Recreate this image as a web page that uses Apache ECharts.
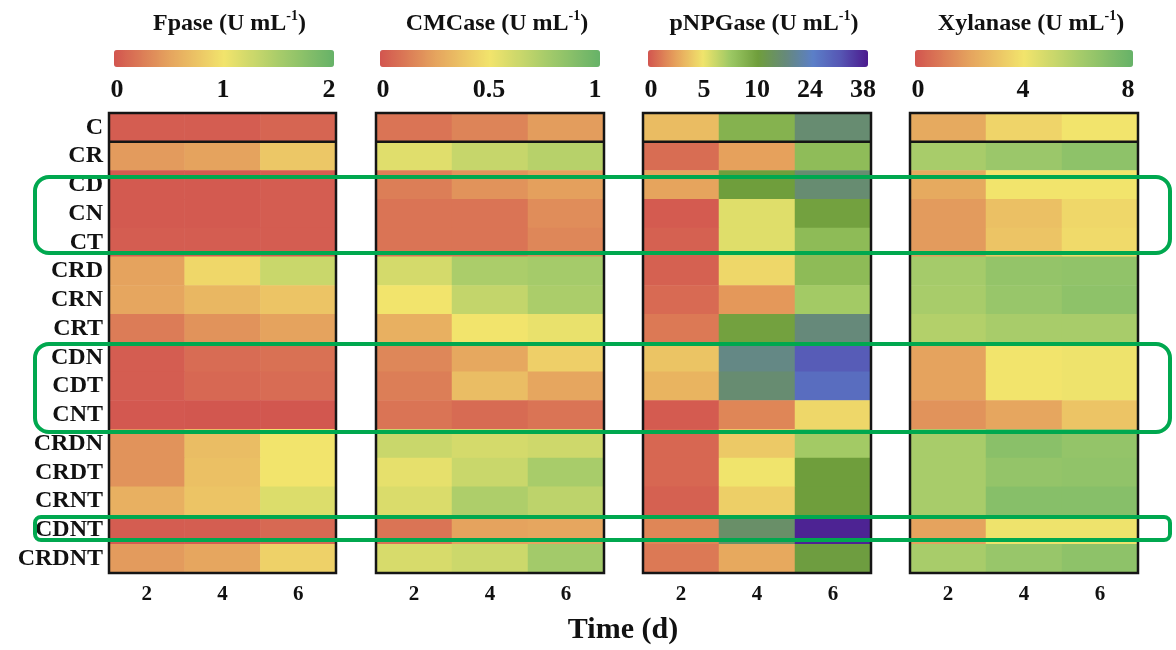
<!DOCTYPE html>
<html><head><meta charset="utf-8">
<script src="https://cdn.jsdelivr.net/npm/echarts@6/dist/echarts.min.js"></script>
<style>html,body{margin:0;padding:0;background:#fff}#c{width:1176px;height:650px}</style>
</head><body><div id="c"></div>
<script>
// ---- data ----
const rows = ['C','CR','CD','CN','CT','CRD','CRN','CRT','CDN','CDT','CNT','CRDN','CRDT','CRNT','CDNT','CRDNT'];
const days = ['2','4','6'];
// values per row: [day2, day4, day6]
const fpase = [
  [0.05,0.05,0.1],[0.45,0.5,0.78],[0.03,0.03,0.05],[0.03,0.03,0.05],[0.05,0.05,0.05],
  [0.5,0.9,1.28],[0.52,0.65,0.75],[0.25,0.4,0.5],[0.05,0.15,0.18],[0.05,0.12,0.15],
  [0.02,0.01,0.01],[0.4,0.7,1.0],[0.4,0.72,1.0],[0.6,0.75,1.15],[0.05,0.06,0.13],[0.45,0.52,0.85]
];
const cmcase = [
  [0.1,0.15,0.23],[0.56,0.65,0.7],[0.13,0.2,0.24],[0.1,0.1,0.18],[0.1,0.1,0.16],
  [0.6,0.74,0.76],[0.5,0.66,0.74],[0.3,0.5,0.53],[0.16,0.27,0.42],[0.13,0.35,0.26],
  [0.1,0.07,0.1],[0.64,0.6,0.62],[0.54,0.64,0.75],[0.58,0.73,0.68],[0.1,0.25,0.26],[0.59,0.63,0.77]
];
const pnpgase = [
  [3.5,8.8,16],[0.8,2.5,8.2],[2.6,10,16],[0.2,5.5,9.8],[0.4,5.5,8.3],
  [0.4,4.5,8.3],[0.7,2.2,7.3],[1.2,9.8,17],[3.8,18,30],[3.2,16,27],
  [0.2,1.6,4.5],[0.6,4,7.3],[0.6,5,10],[0.4,4.2,10],[1.6,15,37],[1.2,2.8,10.5]
];
const xylanase = [
  [2.2,3.5,4.0],[6.0,6.4,6.8],[2.2,4.0,4.0],[1.8,2.9,3.6],[1.8,3.0,3.7],
  [6.1,6.6,6.7],[6.0,6.5,6.8],[5.7,6.0,6.0],[2.0,4.0,4.1],[2.0,4.0,4.1],
  [1.6,2.1,3.0],[6.0,6.9,6.6],[6.0,6.6,6.7],[6.0,7.0,7.0],[2.0,4.1,4.1],[6.0,6.5,6.8]
];
const fpaseTicks = [0, 2, 1];      // min, max, interval
const cmcaseTicks = [0, 1, 0.5];
const xylTicks = [0, 8, 4];
const pnpgTicks = [0, 5, 10, 24, 38];

// ---- layout ----
const FONT = "'Liberation Serif', 'DejaVu Serif', serif";
const gridTop = 113, gridH = 460;
const panels = [
  {left:109, width:227, name:'Fpase'},
  {left:376, width:228, name:'CMCase'},
  {left:643, width:228, name:'pNPGase'},
  {left:910, width:228, name:'Xylanase'}
];
const bars = [{l:114,w:220},{l:380,w:220},{l:648,w:220},{l:915,w:218}];
const pal = ['#d2554f','#e5a35e','#f2e46c','#a8cc6a','#66b268'];
const pnpgPal = ['#d2554f','#e6a15c','#f0e46c','#9cc864','#6f9e3c','#66897a','#5b7fc8','#5656b4','#4b1a8e'];

function toIdx(v){ // piecewise-linear position on the pNPGase scale
  for (let i=0;i<pnpgTicks.length-1;i++){
    const a=pnpgTicks[i], b=pnpgTicks[i+1];
    if (v<=b) return i + (v-a)/(b-a);
  }
  return pnpgTicks.length-1;
}
function build(arr, f){
  const d=[];
  arr.forEach((r,yi)=>r.forEach((v,xi)=>d.push([xi,yi,f?f(v):v])));
  return d;
}

const grids=[], xAxes=[], yAxes=[], series=[], vms=[], titles=[];
const datasets=[build(fpase),build(cmcase),build(pnpgase,toIdx),build(xylanase)];
panels.forEach((p,i)=>{
  grids.push({left:p.left, top:gridTop, width:p.width, height:gridH, show:false});
  xAxes.push({gridIndex:i, type:'category', data:days, position:'bottom',
    axisLine:{show:false}, axisTick:{show:false}, splitLine:{show:false},
    axisLabel:{interval:0, margin:11, fontFamily:FONT, fontWeight:'bold', fontSize:21, color:'#111'}});
  yAxes.push({gridIndex:i, type:'category', data:rows, inverse:true,
    axisLine:{show:false}, axisTick:{show:false}, splitLine:{show:false},
    axisLabel:{show:i===0, interval:0, hideOverlap:false, margin:6, fontFamily:FONT, fontWeight:'bold', fontSize:24, lineHeight:26, color:'#111'}});
  series.push({type:'heatmap', xAxisIndex:i, yAxisIndex:i, data:datasets[i],
    itemStyle:{borderWidth:0}, emphasis:{disabled:true}, progressive:0});
  const b=bars[i];
  let vm={type:'continuous', seriesIndex:i, orient:'horizontal', left:b.l, top:50,
    itemWidth:17, itemHeight:b.w, padding:0, calculable:false, text:null, showLabel:false, hoverLink:false};
  if (i===0) Object.assign(vm,{min:fpaseTicks[0],max:fpaseTicks[1],inRange:{color:pal}});
  if (i===1) Object.assign(vm,{min:cmcaseTicks[0],max:cmcaseTicks[1],inRange:{color:pal}});
  if (i===2) Object.assign(vm,{min:0,max:pnpgTicks.length-1,inRange:{color:pnpgPal}});
  if (i===3) Object.assign(vm,{min:xylTicks[0],max:xylTicks[1],inRange:{color:pal}});
  vms.push(vm);
  titles.push({text:'{a|'+p.name+' (U mL}{s|-1}{a|)}', left:p.left+p.width/2+2, textAlign:'center', top:4,
    textStyle:{rich:{
      a:{fontFamily:FONT, fontWeight:'bold', fontSize:24, color:'#111', lineHeight:30},
      s:{fontFamily:FONT, fontWeight:'bold', fontSize:14, color:'#111', lineHeight:16, verticalAlign:'top'}
    }}});
});
// colorbar tick axes
const tickSets=[fpaseTicks,cmcaseTicks,null,xylTicks];
bars.forEach((b,i)=>{
  const gi=4+i;
  grids.push({left:b.l+3, top:67, width:b.w-8, height:1, show:false});
  const lab={interval:0, margin:9, fontFamily:FONT, fontWeight:'bold', fontSize:26, color:'#111'};
  if (tickSets[i]){
    const t=tickSets[i];
    xAxes.push({gridIndex:gi, type:'value', min:t[0], max:t[1], interval:t[2],
      axisLine:{show:false}, axisTick:{show:false}, splitLine:{show:false}, axisLabel:lab});
  } else {
    xAxes.push({gridIndex:gi, type:'category', data:pnpgTicks.map(String), boundaryGap:false,
      axisLine:{show:false}, axisTick:{show:false}, splitLine:{show:false}, axisLabel:lab});
  }
  yAxes.push({gridIndex:gi, type:'value', show:false});
});

// frames, divider lines, annotations
const rowH = gridH/rows.length;
const graphics=[];
panels.forEach(p=>{
  graphics.push({type:'rect', z:100, shape:{x:p.left, y:gridTop, width:p.width, height:gridH},
    style:{fill:'none', stroke:'#151515', lineWidth:2.5}});
  graphics.push({type:'line', z:100, shape:{x1:p.left, y1:gridTop+rowH, x2:p.left+p.width, y2:gridTop+rowH},
    style:{stroke:'#151515', lineWidth:2.5}});
});
const boxes=[{y:177,h:76,r:14},{y:344,h:88,r:14},{y:517,h:23,r:6}];
boxes.forEach(bx=>graphics.push({type:'rect', z:110, shape:{x:35, y:bx.y, width:1135, height:bx.h, r:bx.r},
  style:{fill:'none', stroke:'#00a84f', lineWidth:4}}));
graphics.push({type:'text', z:100, style:{text:'Time (d)', x:623, y:630, align:'center', verticalAlign:'middle',
  font:"bold 30px 'Liberation Serif', serif", fill:'#111'}});

const chart = echarts.init(document.getElementById('c'), null, {renderer:'canvas'});
chart.setOption({
  animation:false, backgroundColor:'#fff',
  title:titles, grid:grids, xAxis:xAxes, yAxis:yAxes, visualMap:vms, series:series, graphic:graphics
});
</script></body></html>
